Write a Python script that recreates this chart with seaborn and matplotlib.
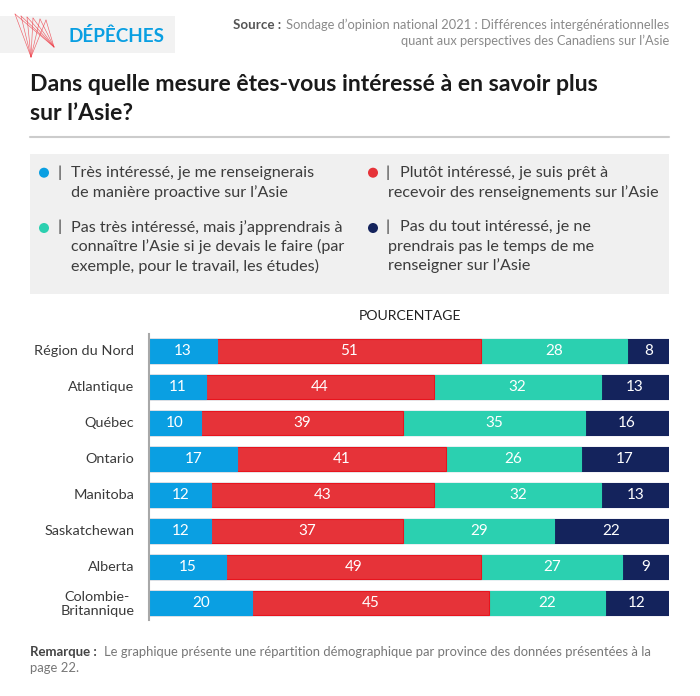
import matplotlib
matplotlib.use("Agg")
import matplotlib.pyplot as plt
import pandas as pd
import seaborn as sns
from matplotlib.patches import Rectangle, Circle
from matplotlib.transforms import ScaledTranslation

sns.set_theme(style="white")
plt.rcParams['font.family'] = ['Lato', 'DejaVu Sans']

provinces = ["Région du Nord", "Atlantique", "Québec", "Ontario", "Manitoba",
             "Saskatchewan", "Alberta", "Colombie-\nBritannique"]
tres = [13.0, 11.0, 10.0, 17.0, 12.0, 12.0, 14.9, 19.9]
plutot = [50.9, 43.8, 38.8, 40.2, 42.9, 36.9, 49.0, 45.5]
pas_tres = [28.1, 32.1, 35.0, 25.8, 32.1, 29.0, 27.1, 22.2]
pas_du_tout = [8.0, 13.1, 16.2, 17.0, 13.0, 22.1, 9.0, 12.4]
labels_tres = [13, 11, 10, 17, 12, 12, 15, 20]
labels_plutot = [51, 44, 39, 41, 43, 37, 49, 45]
labels_pas_tres = [28, 32, 35, 26, 32, 29, 27, 22]
labels_pas_du_tout = [8, 13, 16, 17, 13, 22, 9, 12]
series_names = ["Très intéressé", "Plutôt intéressé", "Pas très intéressé", "Pas du tout intéressé"]
colors = ["#0a9fe2", "#e63339", "#2bd0b0", "#14235c"]
edges = ["#0a9fe2", "#e8141e", "#2bd0b0", "#14235c"]

title = "Dans quelle mesure êtes-vous intéressé à en savoir plus\nsur l’Asie?"
note = "Le graphique présente une répartition démographique par province des données présentées à la"

W, H = 700, 696
fig = plt.figure(figsize=(W / 100, H / 100), dpi=100, facecolor="white")

# page overlay in pixel units
bg = fig.add_axes([0, 0, 1, 1], zorder=0)
bg.set_xlim(0, W); bg.set_ylim(H, 0); bg.axis("off")

bg.add_patch(Rectangle((0, 16), 175, 37, fc="#f2f2f2", ec="none"))
tops = [(15, 14), (21, 16), (27, 17), (33, 18), (40, 19), (46, 20)]
for xa, ya in [(31, 57), (54, 47)]:
    for xt, yt in tops:
        bg.plot([xa, xt], [ya, yt], color="#ee3b45", lw=0.45, alpha=0.8)
bg.text(68, 35.5, "DÉPÊCHES", color="#0a9fe2", fontsize=13.6, fontweight="bold", va="center", ha="left")

src_col = "#8a8a8a"
bg.text(233, 25, "Source :", color="#555555", fontsize=9.6, fontweight="bold", va="center", ha="left")
bg.text(669, 25, "Sondage d’opinion national 2021 : Différences intergénérationnelles",
        color=src_col, fontsize=9.3, va="center", ha="right")
bg.text(669, 41, "quant aux perspectives des Canadiens sur l’Asie", color=src_col, fontsize=9.3, va="center", ha="right")

bg.text(30, 99, title, color="#1a1a1a", fontsize=16.55, fontweight="bold", va="center", ha="left", linespacing=1.46)
bg.plot([30, 669], [137, 137], color="#cccccc", lw=1.5)

bg.add_patch(Rectangle((30, 154), 639, 140, fc="#f0f0f0", ec="none"))
txt = "#3c3c3c"
legend_items = [
    (44, 172.7, 173.5, colors[0], 60, 71, 71, ["Très intéressé, je me renseignerais", "de manière proactive sur l’Asie"]),
    (373, 172.7, 173.5, colors[1], 388, 400, 388, ["Plutôt intéressé, je suis prêt à", "recevoir des renseignements sur l’Asie"]),
    (44, 228, 227.2, colors[2], 60, 71, 71, ["Pas très intéressé, mais j’apprendrais à",
                                             "connaître l’Asie si je devais le faire (par",
                                             "exemple, pour le travail, les études)"]),
    (373, 228, 227.2, colors[3], 388, 400, 388, ["Pas du tout intéressé, je ne", "prendrais pas le temps de me",
                                                 "renseigner sur l’Asie"]),
]
for cx, cy, ty, col, xbar, x0, x1, lines in legend_items:
    bg.add_patch(Circle((cx, cy), 5.0, fc=col, ec="none"))
    bg.text(xbar, ty - 0.3, "|", color=txt, fontsize=11.7, va="center", ha="center")
    for i, line in enumerate(lines):
        bg.text(x0 if i == 0 else x1, ty + i * 19.4, line, color=txt, fontsize=11.6, va="center", ha="left")

bg.text(409.5, 316.5, "POURCENTAGE", color="#222222", fontsize=10.1, va="center", ha="center")

bg.text(30, 652, "Remarque :", color="#444444", fontsize=9.5, fontweight="bold", va="center", ha="left")
bg.text(104, 652, note, color="#777777", fontsize=9.35, va="center", ha="left")
bg.text(30, 668, "page 22.", color="#777777", fontsize=9.35, va="center", ha="left")

# chart
left, right, top, bottom = 149, 669, 333.5, 620
ax = fig.add_axes([left / W, 1 - bottom / H, (right - left) / W, (bottom - top) / H], zorder=2)
ax.patch.set_alpha(0)

df = pd.DataFrame({"prov": provinces, series_names[0]: tres, series_names[1]: plutot,
                   series_names[2]: pas_tres, series_names[3]: pas_du_tout})
cum = df[series_names].cumsum(axis=1)
text_labels = [labels_tres, labels_plutot, labels_pas_tres, labels_pas_du_tout]

for k in range(3, -1, -1):
    sns.barplot(data=cum, x=series_names[k], y=df["prov"], color=colors[k], orient="y", ax=ax,
                width=0.67, saturation=1, edgecolor=edges[k], linewidth=0.8, errorbar=None, dodge=False)
ax.set_xlim(0, cum[series_names[3]].max())
ax.set_ylim(7.48, -0.49)
ax.set_xlabel(""); ax.set_ylabel("")
ax.set_xticks([])
ax.tick_params(axis="y", length=0, pad=10.5, labelsize=10.4, labelcolor="#3a3a3a")
shift = ScaledTranslation(0, 1 / 100, fig.dpi_scale_trans)
for lab in ax.get_yticklabels():
    lab.set_ha("right"); lab.set_multialignment("center"); lab.set_linespacing(1.25)
    lab.set_transform(lab.get_transform() + shift)
sns.despine(ax=ax, left=False, bottom=True, top=True, right=True)
ax.spines["left"].set_color("#a8a8a8")
ax.spines["left"].set_linewidth(1.5)
ax.spines["left"].set_zorder(5)

for k in range(4):
    starts = [0.0] * len(provinces) if k == 0 else cum[series_names[k - 1]].tolist()
    for i, (s, w, v) in enumerate(zip(starts, df[series_names[k]], text_labels[k])):
        ax.text(s + w / 2, i, str(v), color="white", fontsize=11, va="center", ha="center", zorder=6)

fig.savefig("out.png", dpi=100, facecolor="white")
